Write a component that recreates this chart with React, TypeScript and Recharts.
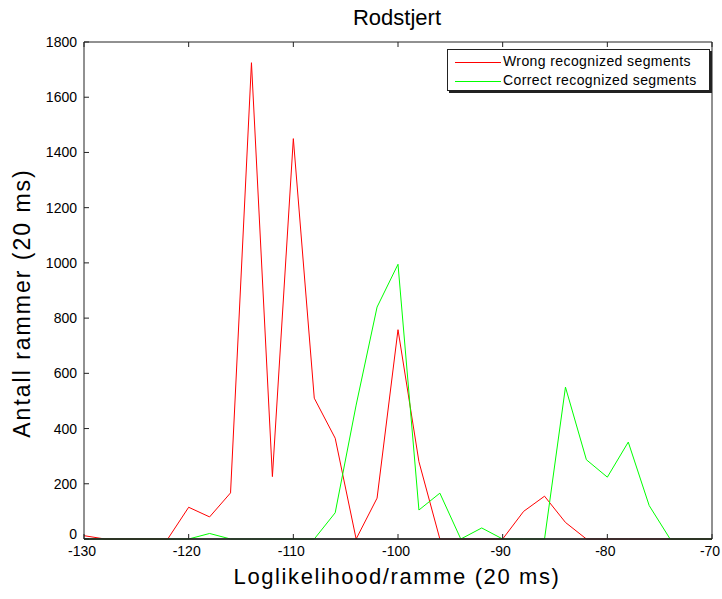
import React from 'react';
import { LineChart, Line, XAxis, YAxis, ReferenceLine } from 'recharts';

const xValues = [-130,-128,-126,-124,-122,-120,-118,-116,-114,-112,-110,-108,-106,-104,-102,-100,-98,-96,-94,-92,-90,-88,-86,-84,-82,-80,-78,-76,-74,-72,-70];
const wrongSegments = [12,0,0,0,0,115,80,167,1725,226,1450,510,365,0,148,758,280,0,0,0,0,100,155,60,0,0,0,0,0,0,0];
const correctSegments = [0,0,0,0,0,0,20,0,0,0,0,0,95,485,840,995,105,166,0,40,0,0,0,550,287,224,351,121,0,0,0];
const xTicks = [-130,-120,-110,-100,-90,-80,-70];
const yTicks = [0,200,400,600,800,1000,1200,1400,1600,1800];

const data = xValues.map((x, i) => ({ x, wrong: wrongSegments[i], correct: correctSegments[i] }));

const FONT = '"Liberation Sans", Arial, Helvetica, sans-serif';
const AX = '#222';

const BottomTick = (props: any) => {
  const { x, y, payload } = props;
  return (
    <g>
      <line x1={x} y1={y} x2={x} y2={y - 5} stroke={AX} />
      <text x={x - 2} y={y + 17} textAnchor="middle" fontSize={14} fontFamily={FONT} fill="#000">{payload.value}</text>
    </g>
  );
};
const TopTick = (props: any) => {
  const { x, y } = props;
  return <line x1={x} y1={y} x2={x} y2={y + 5} stroke={AX} />;
};
const LeftTick = (props: any) => {
  const { x, y, payload } = props;
  return (
    <g>
      <line x1={x} y1={y} x2={x + 5} y2={y} stroke={AX} />
      <text x={x - 7} y={payload.value === 0 ? y : y + 5} textAnchor="end" fontSize={14} fontFamily={FONT} fill="#000">{payload.value}</text>
    </g>
  );
};
const RightTick = (props: any) => {
  const { x, y } = props;
  return <line x1={x} y1={y} x2={x - 5} y2={y} stroke={AX} />;
};

const LegendBox = () => (
  <div style={{ position: 'relative', width: 261, height: 40, border: '1px solid #222', background: '#fff', boxShadow: '2px 2px 0 #222', fontFamily: FONT, fontSize: 14, letterSpacing: 0.4, color: '#000' }}>
    <svg style={{ position: 'absolute', left: 0, top: 0 }} width={60} height={40}>
      <line x1={7} x2={53} y1={12.5} y2={12.5} stroke="#ff0000" />
      <line x1={7} x2={53} y1={31.5} y2={31.5} stroke="#00ff00" />
    </svg>
    <div style={{ position: 'absolute', left: 55, top: 3, whiteSpace: 'nowrap' }}>Wrong recognized segments</div>
    <div style={{ position: 'absolute', left: 55, top: 22, whiteSpace: 'nowrap' }}>Correct recognized segments</div>
  </div>
);

export default function App() {
  return (
    <div style={{ position: 'absolute', left: 0, top: 0, width: 722, height: 599, background: '#fff', fontFamily: FONT }}>
      <LineChart width={722} height={599} data={data} margin={{ top: 41, right: 9, bottom: 30, left: 44 }}>
        <XAxis dataKey="x" type="number" domain={[-130, -70]} ticks={xTicks} height={30} tickSize={0} tickMargin={0} tickLine={false} axisLine={{ stroke: AX }} tick={<BottomTick />} interval={0} />
        <XAxis xAxisId="top" orientation="top" dataKey="x" type="number" domain={[-130, -70]} ticks={xTicks} height={1} tickSize={0} tickMargin={0} tickLine={false} axisLine={{ stroke: AX }} tick={<TopTick />} interval={0} />
        <YAxis type="number" domain={[0, 1800]} ticks={yTicks} width={40} tickSize={0} tickMargin={0} tickLine={false} axisLine={{ stroke: AX }} tick={<LeftTick />} interval={0} />
        <YAxis yAxisId="right" orientation="right" type="number" domain={[0, 1800]} ticks={yTicks} width={1} tickSize={0} tickMargin={0} tickLine={false} axisLine={{ stroke: AX }} tick={<RightTick />} interval={0} />
        <Line dataKey="wrong" type="linear" stroke="#ff0000" strokeWidth={1} dot={false} isAnimationActive={false} />
        <Line dataKey="correct" type="linear" stroke="#00ff00" strokeWidth={1} dot={false} isAnimationActive={false} />
        <ReferenceLine y={0} stroke={AX} strokeWidth={1.5} />
      </LineChart>
      <div style={{ position: 'absolute', left: 447, top: 49 }}>
        <LegendBox />
      </div>
      <div style={{ position: 'absolute', left: 297, width: 200, top: 5, textAlign: 'center', fontSize: 22 }}>Rodstjert</div>
      <div style={{ position: 'absolute', left: 97, width: 600, top: 564, textAlign: 'center', fontSize: 22, letterSpacing: 1.6, whiteSpace: 'nowrap' }}>Loglikelihood/ramme (20 ms)</div>
      <div style={{ position: 'absolute', left: 22, top: 303, width: 320, textAlign: 'center', fontSize: 23, letterSpacing: 2, transform: 'translate(-50%, -50%) rotate(-90deg)', whiteSpace: 'nowrap' }}>Antall rammer (20 ms)</div>
    </div>
  );
}
